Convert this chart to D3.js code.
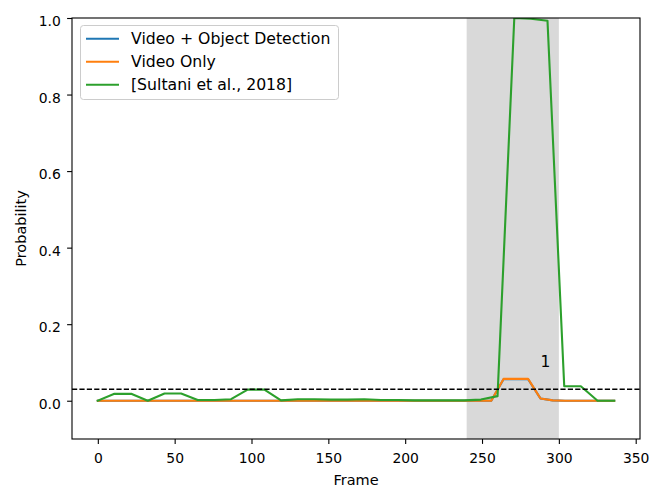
<!DOCTYPE html>
<html>
<head>
<meta charset="utf-8">
<script src="https://cdn.jsdelivr.net/npm/d3@7"></script>
<style>
  html, body { margin: 0; padding: 0; background: #fff; }
  svg { display: block; font-family: "DejaVu Sans", sans-serif; }
</style>
</head>
<body>
<svg id="chart" width="651" height="489"></svg>
<script>
// Anomaly score per frame for one test clip.
// The two model variants are scored every 8 frames; the baseline uses 32 segments.
const modelFrames = [0, 8, 16, 24, 32, 40, 48, 56, 64, 72, 80, 88, 96, 104, 112, 120, 128,
  136, 144, 152, 160, 168, 176, 184, 192, 200, 208, 216, 224, 232, 240, 248, 256,
  264, 272, 280, 288, 296, 304, 312, 320, 328, 336];

const videoObjectScores = [0, 0, 0, 0, 0, 0, 0, 0, 0, 0, 0, 0, 0, 0, 0, 0, 0,
  0, 0, 0, 0, 0, 0, 0, 0, 0, 0, 0, 0, 0, 0, 0, 0,
  0.056, 0.056, 0.056, 0.006, 0.001, 0, 0, 0, 0, 0];

const videoOnlyScores = [0, 0, 0, 0, 0, 0, 0, 0, 0, 0, 0, 0, 0, 0, 0, 0, 0,
  0, 0, 0, 0, 0, 0, 0, 0, 0, 0, 0, 0, 0, 0, 0, 0,
  0.057, 0.057, 0.057, 0.006, 0.001, 0, 0, 0, 0, 0];

const segmentFrames = [0, 10.8, 21.7, 32.5, 43.4, 54.2, 65.0, 75.9, 86.7, 97.5, 108.4,
  119.2, 130.1, 140.9, 151.7, 162.6, 173.4, 184.3, 195.1, 205.9, 216.8, 227.6,
  238.5, 249.3, 260.1, 271.0, 281.8, 292.6, 303.5, 314.3, 325.2, 336.0];

const sultaniScores = [0, 0.018, 0.018, 0, 0.019, 0.019, 0.002, 0.002, 0.004, 0.029, 0.029,
  0.001, 0.004, 0.004, 0.003, 0.003, 0.004, 0.002, 0.002, 0.001, 0.001, 0.001,
  0.001, 0.003, 0.012, 1.0, 0.998, 0.993, 0.038, 0.038, 0, 0];

const seriesNames = ["Video + Object Detection", "Video Only", "[Sultani et al., 2018]"];
const seriesColors = ["#1f77b4", "#ff7f0e", "#2ca02c"];

const anomalySpan = [240, 300];   // ground-truth anomalous frames
const threshold = 0.03;
const annotation = { text: "1", frame: 288, value: 0.087 };

const xTicks = [0, 50, 100, 150, 200, 250, 300, 350];
const yTicks = [0.0, 0.2, 0.4, 0.6, 0.8, 1.0];

const W = 651, H = 489;
const margin = { left: 72, right: 11, top: 18, bottom: 50 };
const tickPx = 13.9, labelPx = 14.5, legendPx = 15.7, notePx = 15.5;

const svg = d3.select("#chart");

const x = d3.scaleLinear().domain([-16.8, 352.8]).range([margin.left, W - margin.right]);
const y = d3.scaleLinear().domain([-0.1, 1.0]).range([H - margin.bottom, margin.top]);

const plot = svg.append("g");

// clip lines to the axes box
svg.append("clipPath").attr("id", "axclip").append("rect")
  .attr("x", margin.left).attr("y", margin.top)
  .attr("width", W - margin.left - margin.right)
  .attr("height", H - margin.top - margin.bottom);

// shaded ground-truth span
plot.append("rect")
  .attr("x", x(anomalySpan[0])).attr("y", margin.top)
  .attr("width", x(anomalySpan[1]) - x(anomalySpan[0]))
  .attr("height", H - margin.top - margin.bottom)
  .attr("fill", "#d9d9d9");

const line = d3.line().x(d => x(d[0])).y(d => y(d[1]));

const series = [
  d3.zip(modelFrames, videoObjectScores),
  d3.zip(modelFrames, videoOnlyScores),
  d3.zip(segmentFrames, sultaniScores)
];

const lines = plot.append("g").attr("clip-path", "url(#axclip)");
series.forEach((s, i) => {
  lines.append("path")
    .datum(s)
    .attr("d", line)
    .attr("fill", "none")
    .attr("stroke", seriesColors[i])
    .attr("stroke-width", 2.1)
    .attr("stroke-linejoin", "round")
    .attr("stroke-linecap", "square");
});

// threshold line
lines.append("line")
  .attr("x1", margin.left).attr("x2", W - margin.right)
  .attr("y1", y(threshold)).attr("y2", y(threshold))
  .attr("stroke", "#000").attr("stroke-width", 1.4)
  .attr("stroke-dasharray", "5.2,2.2");

// annotation
plot.append("text")
  .attr("x", x(annotation.frame)).attr("y", y(annotation.value))
  .attr("font-size", notePx).attr("fill", "#000")
  .text(annotation.text);

// axes
const xAxis = d3.axisBottom(x).tickValues(xTicks).tickFormat(d3.format("d"))
  .tickSize(4.9).tickPadding(4.9);
const yAxis = d3.axisLeft(y).tickValues(yTicks).tickFormat(d3.format(".1f"))
  .tickSize(4.9).tickPadding(6.3);

const gx = svg.append("g").attr("transform", `translate(0,${H - margin.bottom})`).call(xAxis);
const gy = svg.append("g").attr("transform", `translate(${margin.left},0)`).call(yAxis);
[gx, gy].forEach(g => {
  g.select(".domain").remove();
  g.selectAll(".tick line").attr("stroke", "#000").attr("stroke-width", 1.1);
  g.selectAll(".tick text").attr("font-size", tickPx).attr("fill", "#000")
    .attr("font-family", "DejaVu Sans");
});
gx.selectAll(".tick text").attr("dy", "1.0em");
gy.selectAll(".tick text").attr("dy", "0.55em");

// spines
svg.append("rect")
  .attr("x", margin.left).attr("y", margin.top)
  .attr("width", W - margin.left - margin.right)
  .attr("height", H - margin.top - margin.bottom)
  .attr("fill", "none").attr("stroke", "#000").attr("stroke-width", 1.1);

// axis labels
svg.append("text")
  .attr("x", (margin.left + W - margin.right) / 2).attr("y", 485)
  .attr("text-anchor", "middle").attr("font-size", labelPx)
  .text("Frame");
svg.append("text")
  .attr("transform", `translate(26,${(margin.top + H - margin.bottom) / 2}) rotate(-90)`)
  .attr("text-anchor", "middle").attr("font-size", labelPx)
  .text("Probability");

// legend
const lg = svg.append("g");
lg.append("rect")
  .attr("x", 80.5).attr("y", 25.5).attr("width", 258).attr("height", 74)
  .attr("rx", 3).attr("fill", "#fff").attr("fill-opacity", 0.8)
  .attr("stroke", "#cccccc").attr("stroke-width", 1);
seriesNames.forEach((name, i) => {
  const cy = 38.7 + i * 23;
  lg.append("line")
    .attr("x1", 86).attr("x2", 119).attr("y1", cy).attr("y2", cy)
    .attr("stroke", seriesColors[i]).attr("stroke-width", 2.1);
  lg.append("text")
    .attr("x", 131).attr("y", cy).attr("dy", "0.36em")
    .attr("font-size", legendPx).text(name);
});
</script>
</body>
</html>
